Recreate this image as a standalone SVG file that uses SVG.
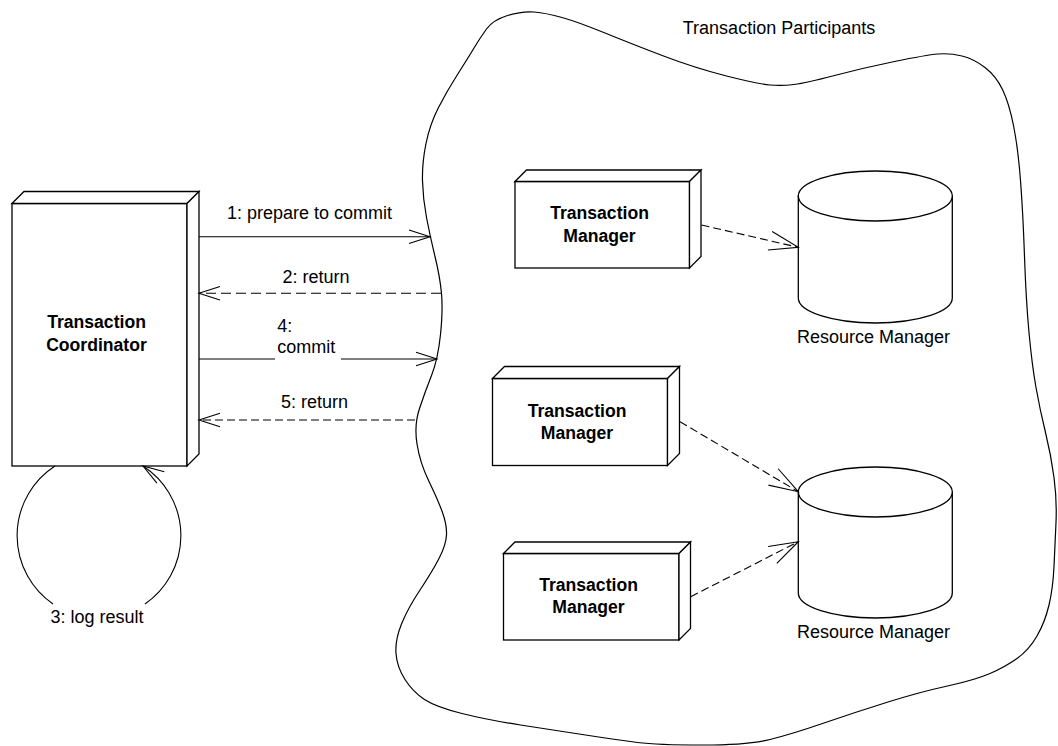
<svg xmlns="http://www.w3.org/2000/svg" width="1058" height="746" viewBox="0 0 1058 746">
<defs>
<style>
.shape{fill:#fff;stroke:#000;stroke-width:1.3;stroke-linejoin:miter}
.cloud{fill:none;stroke:#000;stroke-width:1.2}
.conn{fill:none;stroke:#000;stroke-width:1.1}
.dash{stroke-dasharray:10 5}
.dash2{stroke-dasharray:8 4}
.lbl{font-family:"Liberation Sans",Arial,Helvetica,sans-serif;font-size:18px;fill:#000}
.mid{text-anchor:middle}
.bold{font-family:"Liberation Sans",Arial,Helvetica,sans-serif;font-size:17.6px;font-weight:bold;fill:#000;text-anchor:middle}
</style>
<marker id="ah" markerUnits="userSpaceOnUse" viewBox="-24 -10 26 20" refX="0" refY="0" markerWidth="26" markerHeight="20" orient="auto" overflow="visible">
<path d="M-21,-6.8 L0,0 L-21,6.8" fill="none" stroke="#000" stroke-width="1.1"/>
</marker>
<marker id="ahL" markerUnits="userSpaceOnUse" viewBox="-32 -12 34 24" refX="0" refY="0" markerWidth="34" markerHeight="24" orient="auto" overflow="visible">
<path d="M-29,-9.5 L0,0 L-29,9.5" fill="none" stroke="#000" stroke-width="1.1"/>
</marker>
</defs>
<rect x="0" y="0" width="1058" height="746" fill="#fff"/>

<g id="participants">
<path class="cloud" d="M486.5,29 Q493,20 507.5,15.5 Q522,11 534,12 Q546,13 562,17.5 Q578,22 605,33 Q632,44 663.5,56 Q695,68 726.5,76 Q758,84 770,85 Q782,86 794,84.5 Q806,83 834.5,75.5 Q863,68 894.5,61.5 Q926,55 938,54 Q950,53 962,56 Q974,59 985,67.5 Q996,76 1002.5,89.5 Q1009,103 1013.5,125.5 Q1018,148 1020.5,180.5 Q1023,213 1024.5,256.5 Q1026,300 1029,332.5 Q1032,365 1036,387.5 Q1040,410 1045.5,432.5 Q1051,455 1054,477.5 Q1057,500 1056,522.5 Q1055,545 1054,566.5 Q1053,588 1049,605 Q1045,622 1037,636 Q1029,650 1017,658.5 Q1005,667 990,673.5 Q975,680 947.5,686 Q920,692 888,702 Q856,712 824,723 Q792,734 770,739.5 Q748,745 702.5,745 Q657,745 637.5,742.5 Q618,740 585.5,735 Q553,730 520.5,725 Q488,720 462,713.5 Q436,707 424.5,699.5 Q413,692 405,679.5 Q397,667 396,653.5 Q395,640 401.5,624 Q408,608 420,590 Q432,572 439,558.5 Q446,545 446.5,535 Q447,525 442.5,512.5 Q438,500 429,481.5 Q420,463 417,444 Q414,425 419.5,408.5 Q425,392 431.5,375.5 Q438,359 440.5,334.5 Q443,310 441.5,293.5 Q440,277 435,256.5 Q430,236 426.5,217.5 Q423,199 422.5,181 Q422,163 426,143.5 Q430,124 438.5,107.5 Q447,91 457.5,74.5 Q468,58 474,48 Q480,38 486.5,29 Z"/>
<text class="lbl mid" x="779" y="34">Transaction Participants</text>
</g>

<g id="coordinator">
<rect class="shape" x="12" y="203.5" width="175" height="262.5"/>
<polygon class="shape" points="12,203.5 24,191.5 199,191.5 187,203.5"/>
<polygon class="shape" points="187,203.5 199,191.5 199,454 187,466"/>
<text class="bold" x="96.5" y="328.3">Transaction</text>
<text class="bold" x="96.5" y="351">Coordinator</text>
</g>

<g id="tm1">
<rect class="shape" x="515" y="181.5" width="174.5" height="86.5"/>
<polygon class="shape" points="515,181.5 526.5,170 701,170 689.5,181.5"/>
<polygon class="shape" points="689.5,181.5 701,170 701,256.5 689.5,268"/>
<text class="bold" x="599.5" y="219.3">Transaction</text>
<text class="bold" x="599.5" y="241.7">Manager</text>
</g>

<g id="tm2">
<rect class="shape" x="492.5" y="378.5" width="175" height="87"/>
<polygon class="shape" points="492.5,378.5 504.5,366.5 679.5,366.5 667.5,378.5"/>
<polygon class="shape" points="667.5,378.5 679.5,366.5 679.5,453.5 667.5,465.5"/>
<text class="bold" x="577" y="416.7">Transaction</text>
<text class="bold" x="577" y="439">Manager</text>
</g>

<g id="tm3">
<rect class="shape" x="503.5" y="553.5" width="175.5" height="86.5"/>
<polygon class="shape" points="503.5,553.5 515,542 690.5,542 679,553.5"/>
<polygon class="shape" points="679,553.5 690.5,542 690.5,628.5 679,640"/>
<text class="bold" x="588.5" y="591">Transaction</text>
<text class="bold" x="588.5" y="613.3">Manager</text>
</g>

<g id="rm1">
<path class="shape" d="M798.3,196 V298 A77,25 0 0 0 952.3,298 V196 Z"/>
<ellipse class="shape" cx="875.3" cy="196" rx="77" ry="25"/>
<text class="lbl mid" x="873.5" y="343">Resource Manager</text>
</g>

<g id="rm2">
<path class="shape" d="M798.3,492 V593 A77,25 0 0 0 952.3,593 V492 Z"/>
<ellipse class="shape" cx="875.3" cy="492" rx="77" ry="25"/>
<text class="lbl mid" x="873.5" y="638.3">Resource Manager</text>
</g>

<g id="connectors">
<line class="conn" x1="199" y1="236.7" x2="430" y2="236.7" marker-end="url(#ah)"/>
<text class="lbl mid" x="309.5" y="219">1: prepare to commit</text>
<line class="conn dash" x1="441" y1="293.3" x2="199" y2="293.3" marker-end="url(#ah)"/>
<text class="lbl mid" x="316" y="283">2: return</text>
<line class="conn" x1="199" y1="359" x2="275" y2="359"/>
<line class="conn" x1="341" y1="359" x2="437" y2="359" marker-end="url(#ah)"/>
<text class="lbl" x="277.3" y="332">4:</text>
<text class="lbl" x="277.3" y="353.3">commit</text>
<line class="conn dash2" x1="415" y1="420" x2="199" y2="420" marker-end="url(#ah)"/>
<text class="lbl mid" x="314.5" y="408.3">5: return</text>
<path class="conn" d="M55,466 A83,83 0 0 0 53,604"/>
<path class="conn" d="M145,604 A83,83 0 0 0 143,466" marker-end="url(#ah)"/>
<text class="lbl mid" x="97" y="623">3: log result</text>
<line class="conn dash2" x1="701.5" y1="225" x2="798.3" y2="247.3" marker-end="url(#ahL)"/>
<line class="conn dash2" x1="680" y1="421.7" x2="798.3" y2="491.7" marker-end="url(#ahL)"/>
<line class="conn dash2" x1="690.7" y1="596.7" x2="798.3" y2="541.7" marker-end="url(#ahL)"/>
</g>
</svg>
